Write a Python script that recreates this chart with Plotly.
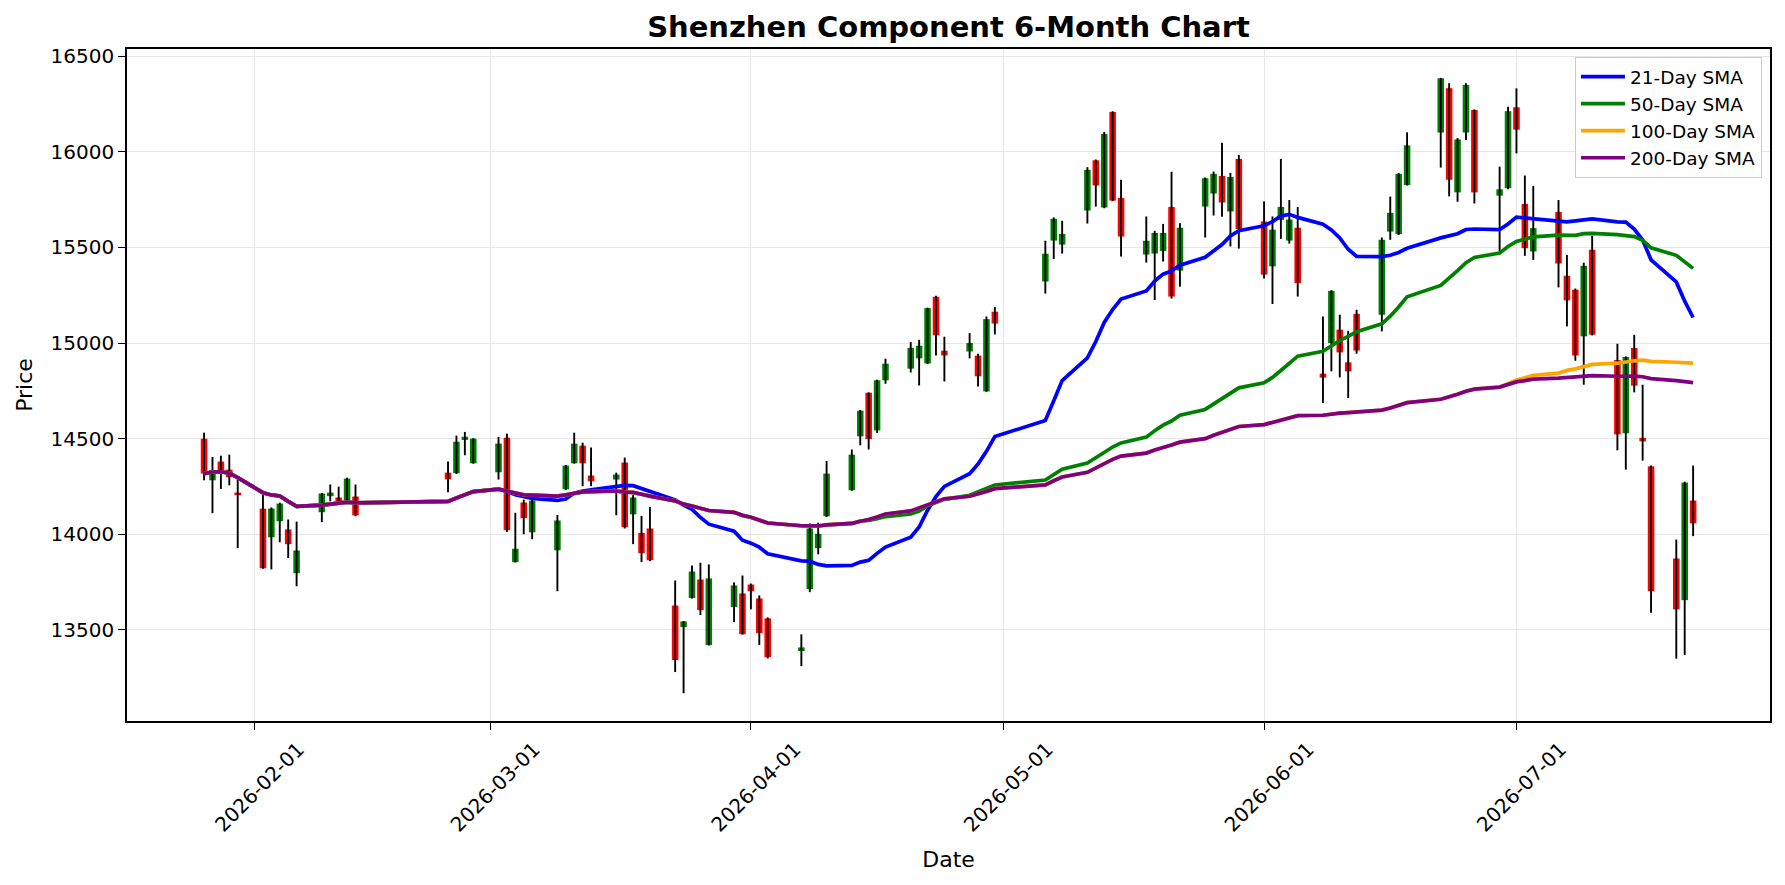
import plotly.graph_objects as go
import pandas as pd

dates = [
    "2026-01-26", "2026-01-27", "2026-01-28", "2026-01-29", "2026-01-30",
    "2026-02-02", "2026-02-03", "2026-02-04", "2026-02-05", "2026-02-06",
    "2026-02-09", "2026-02-10", "2026-02-11", "2026-02-12", "2026-02-13",
    "2026-02-24", "2026-02-25", "2026-02-26", "2026-02-27",
    "2026-03-02", "2026-03-03", "2026-03-04", "2026-03-05", "2026-03-06",
    "2026-03-09", "2026-03-10", "2026-03-11", "2026-03-12", "2026-03-13",
    "2026-03-16", "2026-03-17", "2026-03-18", "2026-03-19", "2026-03-20",
    "2026-03-23", "2026-03-24", "2026-03-25", "2026-03-26", "2026-03-27",
    "2026-03-30", "2026-03-31", "2026-04-01", "2026-04-02", "2026-04-03",
    "2026-04-07", "2026-04-08", "2026-04-09", "2026-04-10",
    "2026-04-13", "2026-04-14", "2026-04-15", "2026-04-16", "2026-04-17",
    "2026-04-20", "2026-04-21", "2026-04-22", "2026-04-23", "2026-04-24",
    "2026-04-27", "2026-04-28", "2026-04-29", "2026-04-30",
    "2026-05-06", "2026-05-07", "2026-05-08",
    "2026-05-11", "2026-05-12", "2026-05-13", "2026-05-14", "2026-05-15",
    "2026-05-18", "2026-05-19", "2026-05-20", "2026-05-21", "2026-05-22",
    "2026-05-25", "2026-05-26", "2026-05-27", "2026-05-28", "2026-05-29",
    "2026-06-01", "2026-06-02", "2026-06-03", "2026-06-04", "2026-06-05",
    "2026-06-08", "2026-06-09", "2026-06-10", "2026-06-11", "2026-06-12",
    "2026-06-15", "2026-06-16", "2026-06-17", "2026-06-18",
    "2026-06-22", "2026-06-23", "2026-06-24", "2026-06-25", "2026-06-26",
    "2026-06-29", "2026-06-30", "2026-07-01", "2026-07-02", "2026-07-03",
    "2026-07-06", "2026-07-07", "2026-07-08", "2026-07-09", "2026-07-10",
    "2026-07-13", "2026-07-14", "2026-07-15", "2026-07-16", "2026-07-17",
    "2026-07-20", "2026-07-21", "2026-07-22",
]

opens = [
    14500, 14282, 14380, 14338, 14218,
    14134, 13984, 14068, 14025, 13796,
    14115, 14199, 14192, 14178, 14197,
    14322, 14319, 14493, 14371,
    14324, 14505, 13854, 14166, 14010,
    13916, 14235, 14371, 14463, 14307,
    14286, 14375, 14104, 14007, 14030,
    13627, 13514, 13666, 13763, 13420,
    13619, 13690, 13737, 13664, 13560,
    13389, 13713, 13927, 14094,
    14230, 14512, 14740, 14543, 14805,
    14866, 14920, 14893, 15242, 14960,
    14956, 14934, 14747, 15164,
    15322, 15536, 15515,
    15693, 15956, 15709, 16209, 15759,
    15463, 15468, 15482, 15712, 15379,
    15714, 15782, 15874, 15688, 15963,
    15636, 15401, 15644, 15536, 15603,
    14840, 15000, 15070, 14899, 15153,
    15148, 15583, 15570, 15826,
    16101, 16333, 15788, 16101, 16219,
    15771, 15810, 16233, 15728, 15479,
    15686, 15352, 15279, 15035, 15488,
    14911, 14528, 14974, 14504, 14355,
    13873, 13655, 14176,
]

highs = [
    14531, 14404, 14411, 14416, 14286,
    14211, 14140, 14165, 14077, 14066,
    14215, 14260, 14249, 14296, 14260,
    14380, 14516, 14535, 14502,
    14509, 14526, 14112, 14181, 14185,
    14101, 14362, 14531, 14479, 14453,
    14322, 14401, 14206, 14096, 14143,
    13758, 13546, 13836, 13851, 13842,
    13748, 13784, 13742, 13680, 13565,
    13476, 14056, 14060, 14383,
    14443, 14650, 14742, 14808, 14918,
    15005, 15017, 15185, 15247, 15033,
    15052, 14944, 15139, 15188,
    15535, 15657, 15639,
    15920, 15960, 16104, 16212, 15854,
    15662, 15587, 15623, 15896, 15627,
    15866, 15897, 16048, 15890, 15984,
    15741, 15662, 15963, 15748, 15712,
    15139, 15276, 15148, 15064, 15174,
    15552, 15766, 15890, 16102,
    16387, 16359, 16072, 16359, 16222,
    15923, 16236, 16332, 15876, 15822,
    15748, 15461, 15285, 15420, 15561,
    14996, 14930, 15043, 14782, 14360,
    13972, 14275, 14359,
]

lows = [
    14282, 14110, 14237, 14256, 13927,
    13819, 13816, 13958, 13875, 13728,
    14063, 14172, 14170, 14172, 14094,
    14219, 14315, 14413, 14369,
    14286, 14012, 13852, 14000, 13974,
    13702, 14232, 14369, 14251, 14251,
    14099, 14030, 13948, 13854, 13859,
    13279, 13168, 13664, 13577, 13418,
    13540, 13475, 13607, 13420, 13350,
    13310, 13697, 13895, 14090,
    14228, 14465, 14443, 14530, 14787,
    14846, 14778, 14890, 14935, 14799,
    14920, 14773, 14745, 15045,
    15259, 15440, 15468,
    15625, 15714, 15705, 15742, 15452,
    15421, 15225, 15426, 15233, 15295,
    15552, 15667, 15661, 15505, 15494,
    15338, 15204, 15545, 15520, 15243,
    14686, 14852, 14820, 14712, 14944,
    15061, 15540, 15565, 15824,
    15918, 15767, 15739, 16062, 15730,
    15479, 15805, 15992, 15456, 15435,
    15291, 15087, 14907, 14782, 15040,
    14439, 14338, 14742, 14385, 13589,
    13349, 13368, 13990,
]

closes = [
    14317, 14334, 14329, 14298, 14204,
    13822, 14134, 14160, 13948, 13915,
    14213, 14218, 14172, 14291, 14099,
    14287, 14484, 14510, 14500,
    14474, 14021, 13924, 14084, 14176,
    14072, 14359, 14474, 14371, 14277,
    14312, 14037, 14192, 13901, 13864,
    13342, 13544, 13805, 13603, 13769,
    13732, 13477, 13702, 13483, 13357,
    13408, 14030, 14002, 14317,
    14416, 14646, 14498, 14805, 14892,
    14975, 14986, 15183, 15040, 14935,
    15000, 14826, 15125, 15102,
    15467, 15650, 15571,
    15906, 15824, 16094, 15745, 15557,
    15535, 15576, 15576, 15243, 15603,
    15862, 15885, 15735, 15869, 15596,
    15358, 15593, 15712, 15646, 15313,
    14819, 15273, 14951, 14852, 14961,
    15540, 15681, 15885, 16034,
    16385, 15854, 16065, 16350, 15788,
    15804, 16213, 16116, 15496, 15601,
    15416, 15223, 14935, 15404, 15044,
    14522, 14927, 14777, 14486, 13702,
    13607, 14270, 14057,
]

sma_windows = [21, 50, 100, 200]
sma_names = ["21-Day SMA", "50-Day SMA", "100-Day SMA", "200-Day SMA"]
sma_colors = ["#0000ff", "#008000", "#ffa500", "#800080"]

x_tick_vals = ["2026-02-01", "2026-03-01", "2026-04-01", "2026-05-01", "2026-06-01", "2026-07-01"]
x_tick_text = ["2026-02-01", "2026-03-01", "2026-04-01", "2026-05-01", "2026-06-01", "2026-07-01"]
y_tick_vals = [13500, 14000, 14500, 15000, 15500, 16000, 16500]

UP = "#008000"
DOWN = "#ff0000"
FONT = "DejaVu Sans"

df = pd.DataFrame({"date": pd.to_datetime(dates), "open": opens, "high": highs,
                   "low": lows, "close": closes})

body_base = [min(o, c) for o, c in zip(opens, closes)]
body_h = [max(abs(c - o), 1) for o, c in zip(opens, closes)]
body_col = [UP if c >= o else DOWN for o, c in zip(opens, closes)]

fig = go.Figure()

fig.add_trace(go.Bar(
    x=df["date"], y=body_h, base=body_base,
    width=0.78 * 86400000,
    marker=dict(color=body_col, line=dict(width=0)),
    showlegend=False, hoverinfo="skip",
))

wx, wy = [], []
for d, lo, hi in zip(df["date"], lows, highs):
    wx += [d, d, None]
    wy += [lo, hi, None]
fig.add_trace(go.Scatter(
    x=wx, y=wy, mode="lines", line=dict(color="black", width=1.9),
    showlegend=False, hoverinfo="skip",
))

for w, name, col in zip(sma_windows, sma_names, sma_colors):
    sma = df["close"].rolling(w, min_periods=1).mean()
    fig.add_trace(go.Scatter(
        x=df["date"], y=sma, mode="lines", name=name,
        line=dict(color=col, width=3.7),
    ))

axis_common = dict(
    showline=True, mirror=True, linecolor="black", linewidth=1.6,
    ticks="outside", ticklen=7, tickwidth=1.3, tickcolor="black",
    showgrid=True, gridcolor="#e6e6e6", gridwidth=1.3,
    tickfont=dict(family=FONT, size=20, color="black"),
    zeroline=False,
)

fig.update_layout(
    width=1785, height=885,
    margin=dict(l=127, r=15, t=49, b=164),
    paper_bgcolor="white", plot_bgcolor="white",
    barmode="overlay",
    title=dict(text="Shenzhen Component 6-Month Chart", x=0.5, xref="paper",
               y=1 - 27 / 885, yanchor="middle", yref="container",
               font=dict(family=FONT, size=29, color="black", weight="bold")),
    xaxis=dict(
        type="date", range=["2026-01-16 20:10", "2026-07-31 03:20"],
        tickmode="array", tickvals=x_tick_vals, ticktext=x_tick_text,
        tickangle=-45, ticklabelshift=44,
        title=dict(text="Date", font=dict(family=FONT, size=22, color="black"), standoff=16),
        **axis_common,
    ),
    yaxis=dict(
        range=[13023, 16538],
        tickmode="array", tickvals=y_tick_vals, ticktext=[str(v) for v in y_tick_vals],
        title=dict(text="Price", font=dict(family=FONT, size=22, color="black"), standoff=12),
        **axis_common,
    ),
    legend=dict(
        x=0.9951, xanchor="right", y=0.988, yanchor="top",
        bgcolor="rgba(255,255,255,0.8)", bordercolor="#cccccc", borderwidth=1,
        font=dict(family=FONT, size=18.5, color="black"),
        itemwidth=44, tracegroupgap=0,
    ),
    showlegend=True,
)

fig.write_html("out.html")
